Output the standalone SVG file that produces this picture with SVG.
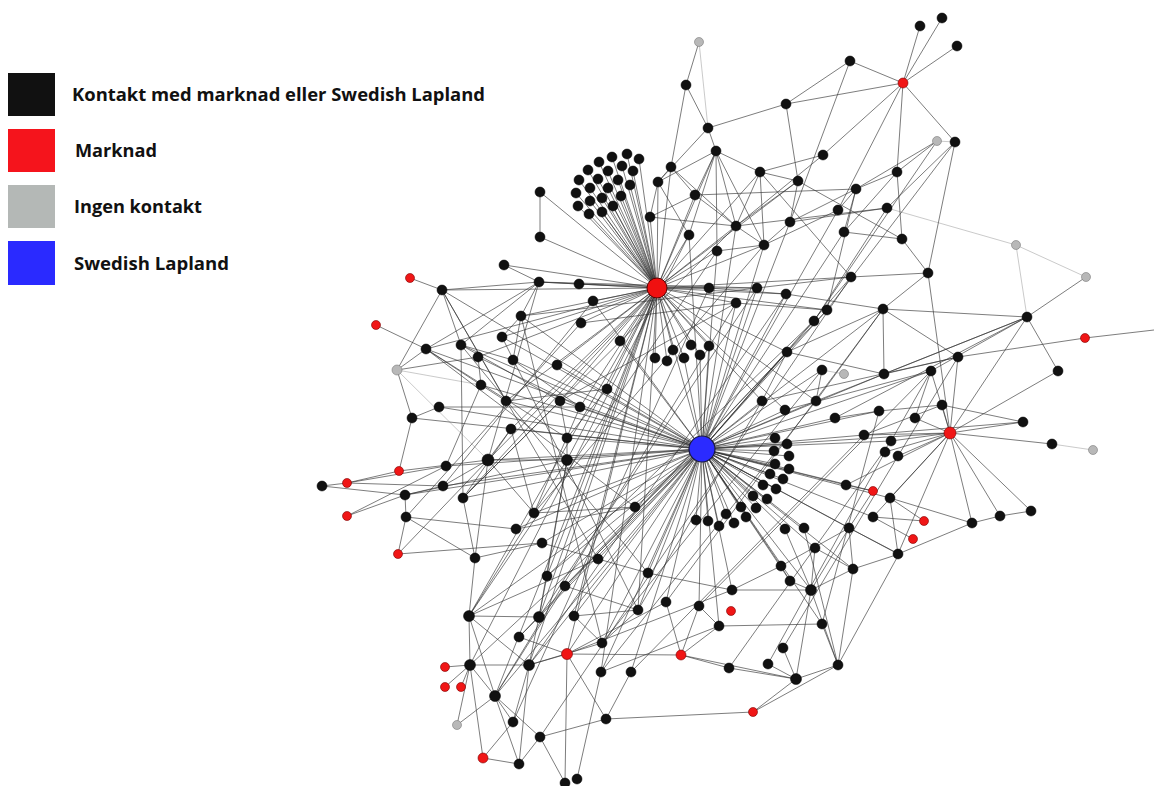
<svg xmlns="http://www.w3.org/2000/svg" width="1154" height="786" viewBox="0 0 1154 786">
<style>
.e{stroke:#333;stroke-width:0.75;fill:none;stroke-opacity:0.85}
.el{stroke:#bcbcbc;stroke-width:0.8;fill:none}
.k{fill:#111;stroke:#000;stroke-width:0.5}
.r{fill:#f01616;stroke:#7a0000;stroke-width:0.6}
.g{fill:#b8b8b8;stroke:#7a7a7a;stroke-width:0.6}
.lt{font-family:"Open Sans","Liberation Sans",sans-serif;font-weight:700;font-size:18px;fill:#111}
</style>
<rect width="1154" height="786" fill="#fff"/>
<g id="legend">
<g id="legend-black"><rect x="8" y="73" width="47" height="43" fill="#111"/><text class="lt" x="72" y="101" textLength="413" lengthAdjust="spacingAndGlyphs">Kontakt med marknad eller Swedish Lapland</text></g>
<g id="legend-red"><rect x="8" y="129" width="47" height="43" fill="#f5141c"/><text class="lt" x="75" y="157" textLength="82" lengthAdjust="spacingAndGlyphs">Marknad</text></g>
<g id="legend-gray"><rect x="8" y="185" width="47" height="43" fill="#b4b8b6"/><text class="lt" x="74" y="213" textLength="128" lengthAdjust="spacingAndGlyphs">Ingen kontakt</text></g>
<g id="legend-blue"><rect x="8" y="241" width="47" height="44" fill="#2a2aff"/><text class="lt" x="74" y="270" textLength="155" lengthAdjust="spacingAndGlyphs">Swedish Lapland</text></g>
</g>
<g id="connectors">
<path class="el" d="M699 42L708 128M955 142L937 141M887 208L1016 245M1016 245L1086 277M1016 245L1027 317M1052 444L1093 450M822 370L844 374M397 370L488 460M397 370L481 385"/>
<path class="e" d="M702 449L696 520M702 449L708 521M702 449L719 526M702 449L734 523M702 449L726 514M702 449L746 517M702 449L741 507M702 449L756 508M702 449L753 496M702 449L767 499M702 449L763 485M702 449L776 489M702 449L770 474M702 449L783 479M702 449L775 464M702 449L789 469M702 449L774 451M702 449L789 456M702 449L775 438M702 449L787 444
M702 449L657 288M702 449L607 389M702 449L635 507M702 449L762 401M702 449L785 410M702 449L816 401M702 449L835 418M702 449L864 435M702 449L846 485M702 449L950 433M702 449L891 441M702 449L879 411M702 449L709 346M702 449L700 355M702 449L684 358M702 449L620 341M702 449L593 301M702 449L521 316M702 449L502 337M702 449L513 360M702 449L557 365M702 449L560 401M702 449L580 407M702 449L506 401M702 449L481 385M702 449L439 407M702 449L426 349M702 449L511 429M702 449L567 438M702 449L567 460M702 449L488 460M702 449L446 466M702 449L443 486M702 449L463 498M702 449L534 513M702 449L516 529M702 449L542 543M702 449L547 576M702 449L565 586M702 449L598 559M702 449L648 573M702 449L638 610M702 449L602 643M702 449L574 616M702 449L539 617M702 449L529 665M702 449L567 654M702 449L601 672M702 449L631 672M702 449L666 602M702 449L699 606M702 449L719 626M702 449L732 590M702 449L781 566M702 449L790 581M702 449L785 529M702 449L804 528M702 449L815 548M702 449L849 528M702 449L822 624M702 449L736 303M702 449L786 294M702 449L757 288M702 449L851 277M702 449L827 310M702 449L814 321M702 449L787 352M702 449L822 370M702 449L883 309M702 449L884 374M702 449L931 371M702 449L717 251M702 449L736 226M702 449L689 235M702 449L764 245M702 449L790 222M702 449L838 210M702 449L844 232M702 449L873 491M702 449L890 498M702 449L873 517M702 449L898 554M702 449L853 569M702 449L811 590M702 449L469 616M702 449L470 665M702 449L495 696M702 449L412 418M702 449L405 495M702 449L461 345"/>
<path class="e" d="M657 288L627 154M657 288L639 159M657 288L612 157M657 288L599 162M657 288L622 166M657 288L633 171M657 288L608 171M657 288L588 170M657 288L579 180M657 288L598 179M657 288L618 180M657 288L630 185M657 288L608 188M657 288L590 188M657 288L576 193M657 288L621 196M657 288L602 198M657 288L590 201M657 288L613 206M657 288L578 206M657 288L602 212M657 288L589 214
M657 288L650 217M657 288L658 182M657 288L671 167M657 288L695 195M657 288L689 235M657 288L717 251M657 288L736 226M657 288L716 151M657 288L540 192M657 288L540 237M657 288L539 282M657 288L579 284M657 288L593 301M657 288L521 316M657 288L581 323M657 288L709 288M657 288L757 288M657 288L736 303M657 288L620 341M657 288L673 350M657 288L691 345M657 288L709 346M657 288L655 358M657 288L667 361M657 288L684 358M657 288L700 355M657 288L607 389M657 288L762 401M657 288L557 365M657 288L560 401M657 288L506 401M657 288L511 429M657 288L488 460M657 288L567 460M657 288L469 616M657 288L539 617M657 288L529 665M657 288L567 654M657 288L547 576M657 288L601 672M657 288L786 294M657 288L827 310M657 288L851 277M657 288L787 352M657 288L798 181M657 288L760 172M657 288L816 401M657 288L785 410M657 288L764 245M657 288L442 290M657 288L502 337M657 288L478 357M657 288L504 265M657 288L426 349M657 288L580 407M657 288L463 498M657 288L495 696M657 288L574 616M657 288L638 610"/>
<path class="e" d="M686 85L708 128M686 85L671 167M708 128L716 151M708 128L786 104M708 128L658 182M716 151L658 182M716 151L695 195M716 151L689 235M716 151L717 251M716 151L736 226M716 151L760 172M716 151L764 245M760 172L736 226M760 172L764 245M760 172L798 181M671 167L658 182M671 167L695 195M671 167L736 226M695 195L736 226M695 195L650 217M695 195L856 189M650 217L736 226M650 217L658 182M658 182L689 235M540 192L540 237M699 42L686 85
M786 104L850 61M786 104L903 83M786 104L798 181M850 61L903 83M850 61L790 222M903 83L920 26M903 83L942 18M903 83L957 46M903 83L955 142M903 83L897 172M903 83L823 155M903 83L838 210M937 141L856 189M937 141L897 172M955 142L887 208M955 142L928 273M823 155L760 172M823 155L736 226M798 181L790 222M798 181L902 239M798 181L736 226M856 189L838 210M856 189L844 232M856 189L790 222M856 189L897 172M887 208L790 222M887 208L736 226M897 172L902 239M897 172L844 232M838 210L764 245M844 232L902 239M902 239L928 273M790 222L764 245M736 226L764 245M717 251L764 245"/>
<path class="e" d="M1086 277L1027 317M928 273L950 433M928 273L883 309M928 273L851 277M883 309L1027 317M883 309L958 357M883 309L884 374M1027 317L950 433M1027 317L1058 371M1027 317L931 371M1027 317L884 374M1085 338L1154 330M1085 338L958 357M958 357L884 374M958 357L950 433M931 371L950 433M942 405L950 433M942 405L879 411M915 418L950 433M915 418L931 371M1023 422L950 433M1023 422L942 405M1052 444L950 433M1058 371L950 433M950 433L891 441M950 433L898 456M950 433L885 452M950 433L1031 511M950 433L1000 516M950 433L972 523M950 433L890 498M950 433L898 554M950 433L873 517M950 433L864 435M1031 511L1000 516M1000 516L972 523M972 523L890 498M972 523L898 554M890 498L924 521M890 498L898 554M873 517L913 539M873 517L924 521M873 491L846 485M846 485L950 433M864 435L1023 422M864 435L942 405M891 441L931 371M898 456L958 357M884 374L787 352M931 371L785 410M835 418L1027 317M835 418L879 411M816 401L883 309M816 401L1027 317M787 352L883 309M787 352L762 401M822 370L816 401M762 401L958 357M851 277L760 172M827 310L856 189M814 321L887 208M814 321L937 141M827 310L955 142M786 294L883 309M757 288L851 277M709 288L786 294M579 284L709 288M539 282L757 288M736 303L827 310M736 303L560 401M581 323L736 303M521 316L757 288"/>
<path class="e" d="M504 265L539 282M539 282L442 290M539 282L579 284M539 282L521 316M539 282L488 460M539 282L426 349M410 278L442 290M442 290L397 370M442 290L461 345M442 290L506 401M376 325L426 349M426 349L397 370M426 349L481 385M426 349L567 438M461 345L463 498M461 345L513 360M461 345L539 282M461 345L560 401M397 370L412 418M397 370L478 357M412 418L439 407M412 418L399 471M439 407L580 407M478 357L481 385M478 357L580 407M481 385L506 401M481 385L446 466M502 337L521 316M521 316L513 360M513 360L580 407M488 460L399 471M488 460L443 486M488 460L567 460M488 460L511 429M488 460L534 513M488 460L475 558M399 471L347 483M322 486L347 483M322 486L405 495M347 483L446 466M347 483L443 486M405 495L406 517M405 495L443 486M405 495L567 460M347 516L405 495M406 517L398 554M406 517L475 558M398 554L542 543M607 389L442 290M607 389L567 438M607 389L506 401M567 438L567 460M567 438L560 401M560 401L463 498M580 407L534 513M511 429L463 498M511 429L534 513M567 460L547 576M567 460L469 616M567 460L539 617M475 558L542 543M475 558L469 616M475 558L463 498M516 529L406 517M542 543L598 559M547 576L539 617M565 586L638 610M565 586L495 696M598 559L648 573M598 559L469 616M648 573L732 590M638 610L602 643M638 610L574 616M574 616L602 643M602 643L529 665M666 602L567 654M699 606L719 626M719 626L822 624M719 626L601 672M732 590L781 566M732 590L567 654M781 566L790 581M781 566L849 528M785 529L811 590M804 528L838 665M815 548L853 569M849 528L899 554M849 528L873 491M635 507L534 513M635 507L516 529"/>
<path class="e" d="M469 616L539 617M469 616L470 665M469 616L495 696M469 616L529 665M470 665L445 667M470 665L445 687M470 665L461 687M470 665L495 696M470 665L529 665M470 665L483 758M495 696L457 725M495 696L513 722M495 696L540 737M495 696L519 764M529 665L539 617M529 665L567 654M529 665L513 722M529 665L519 764M567 654L565 783M567 654L606 719M567 654L519 637M567 654L681 655M519 637L539 617M483 758L519 764M519 764L540 737M540 737L606 719M606 719L753 712M606 719L631 672M753 712L796 679M753 712L838 665M681 655L729 668M681 655L719 626M681 655L666 602M681 655L699 606M681 655L796 679M796 679L768 664M796 679L783 648M796 679L811 590M796 679L838 665M796 679L729 668M838 665L822 624M838 665L811 590M838 665L853 569M838 665L899 554M811 590L853 569M811 590L790 581M811 590L815 548M811 590L732 590M811 590L849 528M853 569L899 554M853 569L849 528M577 779L601 672M565 783L540 737
M470 665L689 235M495 696L736 303M529 665L786 294M539 617L757 288M513 722L709 288M540 737L851 277M565 586L827 310M426 349L635 507M461 345L648 573M502 337L638 610M521 316L602 643M442 290L598 559M469 616L717 251M547 576L814 321M519 637L787 352M406 517L581 323M443 486L593 301M463 498L736 226M534 513L764 245M601 672L816 401M631 672L864 435M666 602L883 309M699 606L931 371M729 668L891 441M768 664L885 452M783 648L898 456M822 624L879 411M602 643L822 370M638 610L762 401M347 516L446 466M398 554L488 460M457 725L470 665M483 758L513 722"/>
</g>
<g id="nodes">
<g id="hub-swedish-lapland"><circle cx="702" cy="449" r="13" fill="#2b2bff" stroke="#1a1a40" stroke-width="1.2"/></g>
<g id="hub-marknad"><circle cx="657" cy="288" r="10" fill="#f01010" stroke="#5a0000" stroke-width="1"/></g>
<g id="r1"><circle class="r" cx="903" cy="83" r="5"/></g>
<g id="r2"><circle class="r" cx="950" cy="433" r="6"/></g>
<g id="r3"><circle class="r" cx="567" cy="654" r="5.5"/></g>
<g id="r4"><circle class="r" cx="681" cy="655" r="5"/></g>
<g id="r5"><circle class="r" cx="753" cy="712" r="4.5"/></g>
<g id="r6"><circle class="r" cx="483" cy="758" r="5"/></g>
<g id="r7"><circle class="r" cx="445" cy="667" r="4.5"/></g>
<g id="r8"><circle class="r" cx="445" cy="687" r="4.5"/></g>
<g id="r9"><circle class="r" cx="461" cy="687" r="4.5"/></g>
<g id="r10"><circle class="r" cx="731" cy="611" r="4.5"/></g>
<g id="r11"><circle class="r" cx="873" cy="491" r="4.5"/></g>
<g id="r12"><circle class="r" cx="924" cy="521" r="4.5"/></g>
<g id="r13"><circle class="r" cx="913" cy="539" r="4.5"/></g>
<g id="r14"><circle class="r" cx="1085" cy="338" r="4.5"/></g>
<g id="r15"><circle class="r" cx="410" cy="278" r="4.5"/></g>
<g id="r16"><circle class="r" cx="376" cy="325" r="4.5"/></g>
<g id="r17"><circle class="r" cx="399" cy="471" r="4.5"/></g>
<g id="r18"><circle class="r" cx="347" cy="483" r="4.5"/></g>
<g id="r19"><circle class="r" cx="347" cy="516" r="4.5"/></g>
<g id="r20"><circle class="r" cx="398" cy="554" r="4.5"/></g>
<g id="g1"><circle class="g" cx="699" cy="42" r="4.5"/></g>
<g id="g2"><circle class="g" cx="937" cy="141" r="4.5"/></g>
<g id="g3"><circle class="g" cx="1016" cy="245" r="4.5"/></g>
<g id="g4"><circle class="g" cx="1086" cy="277" r="4.5"/></g>
<g id="g5"><circle class="g" cx="1093" cy="450" r="4.5"/></g>
<g id="g6"><circle class="g" cx="844" cy="374" r="4.5"/></g>
<g id="g7"><circle class="g" cx="397" cy="370" r="5"/></g>
<g id="g8"><circle class="g" cx="457" cy="725" r="4.5"/></g>
<g id="k1"><circle class="k" cx="686" cy="85" r="5"/></g>
<g id="k2"><circle class="k" cx="708" cy="128" r="5"/></g>
<g id="k3"><circle class="k" cx="716" cy="151" r="5"/></g>
<g id="k4"><circle class="k" cx="671" cy="167" r="5"/></g>
<g id="k5"><circle class="k" cx="658" cy="182" r="5"/></g>
<g id="k6"><circle class="k" cx="695" cy="195" r="5"/></g>
<g id="k7"><circle class="k" cx="760" cy="172" r="5"/></g>
<g id="k8"><circle class="k" cx="736" cy="226" r="5"/></g>
<g id="k9"><circle class="k" cx="764" cy="245" r="5"/></g>
<g id="k10"><circle class="k" cx="717" cy="251" r="5"/></g>
<g id="k11"><circle class="k" cx="689" cy="235" r="5"/></g>
<g id="k12"><circle class="k" cx="650" cy="217" r="5"/></g>
<g id="k13"><circle class="k" cx="540" cy="192" r="5"/></g>
<g id="k14"><circle class="k" cx="540" cy="237" r="5"/></g>
<g id="c1"><circle class="k" cx="627" cy="154" r="5"/></g>
<g id="c2"><circle class="k" cx="639" cy="159" r="5"/></g>
<g id="c3"><circle class="k" cx="612" cy="157" r="5"/></g>
<g id="c4"><circle class="k" cx="599" cy="162" r="5"/></g>
<g id="c5"><circle class="k" cx="622" cy="166" r="5"/></g>
<g id="c6"><circle class="k" cx="633" cy="171" r="5"/></g>
<g id="c7"><circle class="k" cx="608" cy="171" r="5"/></g>
<g id="c8"><circle class="k" cx="588" cy="170" r="5"/></g>
<g id="c9"><circle class="k" cx="579" cy="180" r="5"/></g>
<g id="c10"><circle class="k" cx="598" cy="179" r="5"/></g>
<g id="c11"><circle class="k" cx="618" cy="180" r="5"/></g>
<g id="c12"><circle class="k" cx="630" cy="185" r="5"/></g>
<g id="c13"><circle class="k" cx="608" cy="188" r="5"/></g>
<g id="c14"><circle class="k" cx="590" cy="188" r="5"/></g>
<g id="c15"><circle class="k" cx="576" cy="193" r="5"/></g>
<g id="c16"><circle class="k" cx="621" cy="196" r="5"/></g>
<g id="c17"><circle class="k" cx="602" cy="198" r="5"/></g>
<g id="c18"><circle class="k" cx="590" cy="201" r="5"/></g>
<g id="c19"><circle class="k" cx="613" cy="206" r="5"/></g>
<g id="c20"><circle class="k" cx="578" cy="206" r="5"/></g>
<g id="c21"><circle class="k" cx="602" cy="212" r="5"/></g>
<g id="c22"><circle class="k" cx="589" cy="214" r="5"/></g>
<g id="k15"><circle class="k" cx="920" cy="26" r="5"/></g>
<g id="k16"><circle class="k" cx="942" cy="18" r="5"/></g>
<g id="k17"><circle class="k" cx="957" cy="46" r="5"/></g>
<g id="k18"><circle class="k" cx="850" cy="61" r="5"/></g>
<g id="k19"><circle class="k" cx="786" cy="104" r="5"/></g>
<g id="k20"><circle class="k" cx="955" cy="142" r="5"/></g>
<g id="k21"><circle class="k" cx="823" cy="155" r="5"/></g>
<g id="k22"><circle class="k" cx="897" cy="172" r="5"/></g>
<g id="k23"><circle class="k" cx="798" cy="181" r="5"/></g>
<g id="k24"><circle class="k" cx="856" cy="189" r="5"/></g>
<g id="k25"><circle class="k" cx="887" cy="208" r="5"/></g>
<g id="k26"><circle class="k" cx="838" cy="210" r="5"/></g>
<g id="k27"><circle class="k" cx="790" cy="222" r="5"/></g>
<g id="k28"><circle class="k" cx="844" cy="232" r="5"/></g>
<g id="k29"><circle class="k" cx="902" cy="239" r="5"/></g>
<g id="k30"><circle class="k" cx="504" cy="265" r="5"/></g>
<g id="k31"><circle class="k" cx="539" cy="282" r="5"/></g>
<g id="k32"><circle class="k" cx="579" cy="284" r="5"/></g>
<g id="k33"><circle class="k" cx="442" cy="290" r="5"/></g>
<g id="k34"><circle class="k" cx="521" cy="316" r="5"/></g>
<g id="k35"><circle class="k" cx="502" cy="337" r="5"/></g>
<g id="k36"><circle class="k" cx="581" cy="323" r="5"/></g>
<g id="k37"><circle class="k" cx="426" cy="349" r="5"/></g>
<g id="k38"><circle class="k" cx="461" cy="345" r="5"/></g>
<g id="k39"><circle class="k" cx="478" cy="357" r="5"/></g>
<g id="k40"><circle class="k" cx="513" cy="360" r="5"/></g>
<g id="k41"><circle class="k" cx="557" cy="365" r="5"/></g>
<g id="k42"><circle class="k" cx="481" cy="385" r="5"/></g>
<g id="k43"><circle class="k" cx="506" cy="401" r="5"/></g>
<g id="k44"><circle class="k" cx="560" cy="401" r="5"/></g>
<g id="k45"><circle class="k" cx="580" cy="407" r="5"/></g>
<g id="k46"><circle class="k" cx="439" cy="407" r="5"/></g>
<g id="k47"><circle class="k" cx="412" cy="418" r="5"/></g>
<g id="k48"><circle class="k" cx="511" cy="429" r="5"/></g>
<g id="k49"><circle class="k" cx="567" cy="438" r="5"/></g>
<g id="k50"><circle class="k" cx="488" cy="460" r="6"/></g>
<g id="k51"><circle class="k" cx="567" cy="460" r="5.5"/></g>
<g id="k52"><circle class="k" cx="446" cy="466" r="5"/></g>
<g id="k53"><circle class="k" cx="322" cy="486" r="5"/></g>
<g id="k54"><circle class="k" cx="443" cy="486" r="5"/></g>
<g id="k55"><circle class="k" cx="405" cy="495" r="5"/></g>
<g id="k56"><circle class="k" cx="463" cy="498" r="5"/></g>
<g id="k57"><circle class="k" cx="534" cy="513" r="5"/></g>
<g id="k58"><circle class="k" cx="406" cy="517" r="5"/></g>
<g id="k59"><circle class="k" cx="593" cy="301" r="5"/></g>
<g id="k60"><circle class="k" cx="709" cy="288" r="5"/></g>
<g id="k61"><circle class="k" cx="757" cy="288" r="5"/></g>
<g id="k62"><circle class="k" cx="786" cy="294" r="5"/></g>
<g id="k63"><circle class="k" cx="736" cy="303" r="5"/></g>
<g id="k64"><circle class="k" cx="851" cy="277" r="5"/></g>
<g id="k65"><circle class="k" cx="827" cy="310" r="5"/></g>
<g id="k66"><circle class="k" cx="814" cy="321" r="5"/></g>
<g id="k67"><circle class="k" cx="620" cy="341" r="5"/></g>
<g id="k68"><circle class="k" cx="673" cy="350" r="5"/></g>
<g id="k69"><circle class="k" cx="691" cy="345" r="5"/></g>
<g id="k70"><circle class="k" cx="709" cy="346" r="5"/></g>
<g id="k71"><circle class="k" cx="655" cy="358" r="5"/></g>
<g id="k72"><circle class="k" cx="667" cy="361" r="5"/></g>
<g id="k73"><circle class="k" cx="684" cy="358" r="5"/></g>
<g id="k74"><circle class="k" cx="700" cy="355" r="5"/></g>
<g id="k75"><circle class="k" cx="787" cy="352" r="5"/></g>
<g id="k76"><circle class="k" cx="822" cy="370" r="5"/></g>
<g id="k77"><circle class="k" cx="607" cy="389" r="5"/></g>
<g id="k78"><circle class="k" cx="762" cy="401" r="5"/></g>
<g id="k79"><circle class="k" cx="816" cy="401" r="5"/></g>
<g id="k80"><circle class="k" cx="785" cy="410" r="5"/></g>
<g id="k81"><circle class="k" cx="835" cy="418" r="5"/></g>
<g id="k82"><circle class="k" cx="864" cy="435" r="5"/></g>
<g id="k83"><circle class="k" cx="635" cy="507" r="5"/></g>
<g id="k84"><circle class="k" cx="846" cy="485" r="5"/></g>
<g id="a1"><circle class="k" cx="696" cy="520" r="5"/></g>
<g id="a2"><circle class="k" cx="708" cy="521" r="5"/></g>
<g id="a3"><circle class="k" cx="719" cy="526" r="5"/></g>
<g id="a4"><circle class="k" cx="734" cy="523" r="5"/></g>
<g id="a5"><circle class="k" cx="726" cy="514" r="5"/></g>
<g id="a6"><circle class="k" cx="746" cy="517" r="5"/></g>
<g id="a7"><circle class="k" cx="741" cy="507" r="5"/></g>
<g id="a8"><circle class="k" cx="756" cy="508" r="5"/></g>
<g id="a9"><circle class="k" cx="753" cy="496" r="5"/></g>
<g id="a10"><circle class="k" cx="767" cy="499" r="5"/></g>
<g id="a11"><circle class="k" cx="763" cy="485" r="5"/></g>
<g id="a12"><circle class="k" cx="776" cy="489" r="5"/></g>
<g id="a13"><circle class="k" cx="770" cy="474" r="5"/></g>
<g id="a14"><circle class="k" cx="783" cy="479" r="5"/></g>
<g id="a15"><circle class="k" cx="775" cy="464" r="5"/></g>
<g id="a16"><circle class="k" cx="789" cy="469" r="5"/></g>
<g id="a17"><circle class="k" cx="774" cy="451" r="5"/></g>
<g id="a18"><circle class="k" cx="789" cy="456" r="5"/></g>
<g id="a19"><circle class="k" cx="775" cy="438" r="5"/></g>
<g id="a20"><circle class="k" cx="787" cy="444" r="5"/></g>
<g id="k85"><circle class="k" cx="928" cy="273" r="5"/></g>
<g id="k86"><circle class="k" cx="883" cy="309" r="5"/></g>
<g id="k87"><circle class="k" cx="1027" cy="317" r="5"/></g>
<g id="k88"><circle class="k" cx="958" cy="357" r="5"/></g>
<g id="k89"><circle class="k" cx="1058" cy="371" r="5"/></g>
<g id="k90"><circle class="k" cx="884" cy="374" r="5"/></g>
<g id="k91"><circle class="k" cx="931" cy="371" r="5"/></g>
<g id="k92"><circle class="k" cx="942" cy="405" r="5"/></g>
<g id="k93"><circle class="k" cx="879" cy="411" r="5"/></g>
<g id="k94"><circle class="k" cx="915" cy="418" r="5"/></g>
<g id="k95"><circle class="k" cx="1023" cy="422" r="5"/></g>
<g id="k96"><circle class="k" cx="1052" cy="444" r="5"/></g>
<g id="k97"><circle class="k" cx="891" cy="441" r="5"/></g>
<g id="k98"><circle class="k" cx="885" cy="452" r="5"/></g>
<g id="k99"><circle class="k" cx="898" cy="456" r="5"/></g>
<g id="k100"><circle class="k" cx="890" cy="498" r="5"/></g>
<g id="k101"><circle class="k" cx="1031" cy="511" r="5"/></g>
<g id="k102"><circle class="k" cx="1000" cy="516" r="5"/></g>
<g id="k103"><circle class="k" cx="972" cy="523" r="5"/></g>
<g id="k104"><circle class="k" cx="873" cy="517" r="5"/></g>
<g id="k105"><circle class="k" cx="898" cy="554" r="5"/></g>
<g id="k106"><circle class="k" cx="516" cy="529" r="5"/></g>
<g id="k107"><circle class="k" cx="542" cy="543" r="5"/></g>
<g id="k108"><circle class="k" cx="475" cy="558" r="5"/></g>
<g id="k109"><circle class="k" cx="598" cy="559" r="5"/></g>
<g id="k110"><circle class="k" cx="648" cy="573" r="5"/></g>
<g id="k111"><circle class="k" cx="547" cy="576" r="5"/></g>
<g id="k112"><circle class="k" cx="565" cy="586" r="5"/></g>
<g id="k113"><circle class="k" cx="638" cy="610" r="5"/></g>
<g id="k114"><circle class="k" cx="469" cy="616" r="5.5"/></g>
<g id="k115"><circle class="k" cx="539" cy="617" r="5.5"/></g>
<g id="k116"><circle class="k" cx="574" cy="616" r="5"/></g>
<g id="k117"><circle class="k" cx="519" cy="637" r="5"/></g>
<g id="k118"><circle class="k" cx="602" cy="643" r="5"/></g>
<g id="k119"><circle class="k" cx="470" cy="665" r="5.5"/></g>
<g id="k120"><circle class="k" cx="529" cy="665" r="5.5"/></g>
<g id="k121"><circle class="k" cx="601" cy="672" r="5"/></g>
<g id="k122"><circle class="k" cx="631" cy="672" r="5"/></g>
<g id="k123"><circle class="k" cx="495" cy="696" r="5.5"/></g>
<g id="k124"><circle class="k" cx="513" cy="722" r="5"/></g>
<g id="k125"><circle class="k" cx="606" cy="719" r="5"/></g>
<g id="k126"><circle class="k" cx="540" cy="737" r="5"/></g>
<g id="k127"><circle class="k" cx="519" cy="764" r="5"/></g>
<g id="k128"><circle class="k" cx="565" cy="783" r="5"/></g>
<g id="k129"><circle class="k" cx="577" cy="779" r="5"/></g>
<g id="k130"><circle class="k" cx="785" cy="529" r="5"/></g>
<g id="k131"><circle class="k" cx="804" cy="528" r="5"/></g>
<g id="k132"><circle class="k" cx="849" cy="528" r="5"/></g>
<g id="k133"><circle class="k" cx="815" cy="548" r="5"/></g>
<g id="k134"><circle class="k" cx="781" cy="566" r="5"/></g>
<g id="k135"><circle class="k" cx="853" cy="569" r="5"/></g>
<g id="k136"><circle class="k" cx="790" cy="581" r="5"/></g>
<g id="k137"><circle class="k" cx="811" cy="590" r="5.5"/></g>
<g id="k138"><circle class="k" cx="732" cy="590" r="5"/></g>
<g id="k139"><circle class="k" cx="666" cy="602" r="5"/></g>
<g id="k140"><circle class="k" cx="699" cy="606" r="5"/></g>
<g id="k141"><circle class="k" cx="719" cy="626" r="5"/></g>
<g id="k142"><circle class="k" cx="822" cy="624" r="5"/></g>
<g id="k143"><circle class="k" cx="783" cy="648" r="5"/></g>
<g id="k144"><circle class="k" cx="729" cy="668" r="5"/></g>
<g id="k145"><circle class="k" cx="768" cy="664" r="5"/></g>
<g id="k146"><circle class="k" cx="838" cy="665" r="5"/></g>
<g id="k147"><circle class="k" cx="796" cy="679" r="5.5"/></g>
</g>
</svg>
